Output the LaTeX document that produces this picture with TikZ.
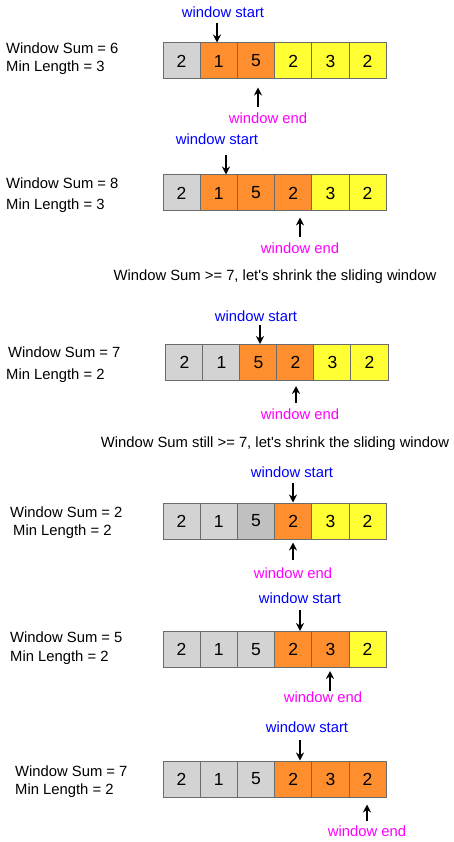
\documentclass[tikz,border=0pt]{standalone}
\usepackage{fontspec}
\newfontfamily\sansf{Liberation Sans}
\usetikzlibrary{arrows.meta}
\definecolor{gry}{HTML}{D3D3D3}
\definecolor{gryd}{HTML}{C0C0C0}
\definecolor{orng}{HTML}{FF8F2E}
\definecolor{yel}{HTML}{FFFF33}
\definecolor{edge}{HTML}{6B6B6B}
\definecolor{startblue}{HTML}{0000FF}
\definecolor{endpink}{HTML}{FF00FF}
\tikzset{
  cell/.style={draw=edge,line width=1pt,minimum width=37.2pt,minimum height=36pt,inner sep=0pt,font=\sansf\fontsize{17.5}{20}\selectfont},
  info/.style={anchor=west,inner sep=0pt,font=\sansf\fontsize{14.8}{17}\selectfont},
  note/.style={inner sep=0pt,font=\sansf\fontsize{14.8}{17}\selectfont},
  wstart/.style={note,text=startblue},
  wend/.style={note,text=endpink},
  ptr/.style={line width=1.4pt,-{Stealth[length=8pt,width=8pt]}}
}
\begin{document}
\begin{tikzpicture}[x=1pt,y=-1pt]
  \fill[white] (0,0) rectangle (454,842);
  \useasboundingbox (0,0) rectangle (454,842);
  % row 1
  \node[info] (sum1) at (6,48) {Window Sum = 6};
  \node[info] (len1) at (6,68) {Min Length = 3};
  \foreach \v/\c [count=\i] in {2/gry,1/orng,5/orng,2/yel,3/yel,2/yel}
    \node[cell,fill=\c] (r1c\i) at (163+37.2*\i-18.6,61) {\v};
  \node[wstart] (ws1) at (223,12) {window start};
  \node[wend] (we1) at (268,118) {window end};
  \coordinate (a1) at (217,23);
  \coordinate (b1) at (258,107);
  \draw[ptr] (a1) -- (a1 |- r1c2.north);
  \draw[ptr,shorten >=8pt] (b1) -- (b1 |- r1c3.south);
  % row 2
  \node[info] (sum2) at (6,183) {Window Sum = 8};
  \node[info] (len2) at (6,206) {Min Length = 3};
  \foreach \v/\c [count=\i] in {2/gry,1/orng,5/orng,2/orng,3/yel,2/yel}
    \node[cell,fill=\c] (r2c\i) at (163+37.2*\i-18.6,193) {\v};
  \node[wstart] (ws2) at (217,139) {window start};
  \node[wend] (we2) at (300,248) {window end};
  \coordinate (a2) at (226,155);
  \coordinate (b2) at (300,237);
  \draw[ptr] (a2) -- (a2 |- r2c2.north);
  \draw[ptr,shorten >=6pt] (b2) -- (b2 |- r2c4.south);
  \node[note] (msg1) at (275,277) {Window Sum >= 7, let's shrink the sliding window};
  % row 3
  \node[info] (sum3) at (8,352) {Window Sum = 7};
  \node[info] (len3) at (6,376) {Min Length = 2};
  \foreach \v/\c [count=\i] in {2/gry,1/gry,5/orng,2/orng,3/yel,2/yel}
    \node[cell,fill=\c] (r3c\i) at (166+37*\i-18.5,362.5) {\v};
  \node[wstart] (ws3) at (256,316) {window start};
  \node[wend] (we3) at (300,414) {window end};
  \coordinate (a3) at (260,325);
  \coordinate (b3) at (296,403);
  \draw[ptr] (a3) -- (a3 |- r3c3.north);
  \draw[ptr,shorten >=5pt] (b3) -- (b3 |- r3c4.south);
  \node[note] (msg2) at (275,444) {Window Sum still >= 7, let's shrink the sliding window};
  % row 4
  \node[info] (sum4) at (10,512) {Window Sum = 2};
  \node[info] (len4) at (13,532) {Min Length = 2};
  \foreach \v/\c [count=\i] in {2/gry,1/gry,5/gryd,2/orng,3/yel,2/yel}
    \node[cell,fill=\c] (r4c\i) at (163+37.2*\i-18.6,521) {\v};
  \node[wstart] (ws4) at (292,472) {window start};
  \node[wend] (we4) at (293,573) {window end};
  \coordinate (a4) at (293,483);
  \coordinate (b4) at (293,560);
  \draw[ptr] (a4) -- (a4 |- r4c4.north);
  \draw[ptr,shorten >=3pt] (b4) -- (b4 |- r4c4.south);
  % row 5
  \node[info] (sum5) at (10,637) {Window Sum = 5};
  \node[info] (len5) at (10,658) {Min Length = 2};
  \foreach \v/\c [count=\i] in {2/gry,1/gry,5/gry,2/orng,3/orng,2/yel}
    \node[cell,fill=\c] (r5c\i) at (163+37.2*\i-18.6,649.5) {\v};
  \node[wstart] (ws5) at (300,598) {window start};
  \node[wend] (we5) at (323,697) {window end};
  \coordinate (a5) at (300,610);
  \coordinate (b5) at (330,691);
  \draw[ptr] (a5) -- (a5 |- r5c4.north);
  \draw[ptr,shorten >=3pt] (b5) -- (b5 |- r5c5.south);
  % row 6
  \node[info] (sum6) at (15,771) {Window Sum = 7};
  \node[info] (len6) at (15,791) {Min Length = 2};
  \foreach \v/\c [count=\i] in {2/gry,1/gry,5/gry,2/orng,3/orng,2/orng}
    \node[cell,fill=\c] (r6c\i) at (163+37.2*\i-18.6,779) {\v};
  \node[wstart] (ws6) at (307,727) {window start};
  \node[wend] (we6) at (367,831) {window end};
  \coordinate (a6) at (300,740);
  \coordinate (b6) at (367,821);
  \draw[ptr] (a6) -- (a6 |- r6c4.north);
  \draw[ptr,shorten >=7pt] (b6) -- (b6 |- r6c6.south);
\end{tikzpicture}
\end{document}
